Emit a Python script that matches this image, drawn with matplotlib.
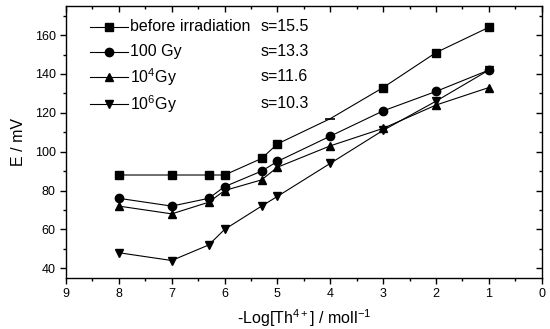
import numpy as np
import matplotlib
matplotlib.use("Agg")
import matplotlib.pyplot as plt
from matplotlib.ticker import MultipleLocator

plt.rcParams['font.family'] = ['Liberation Sans', 'DejaVu Sans']
plt.rcParams['mathtext.default'] = 'regular'

# -log[Th4+] concentrations
log_conc = [8, 7, 6.3, 6, 5.3, 5, 4, 3, 2, 1]

# electrode potential (mV) for each dose
e_before = [88, 88, 88, 88, 96.5, 104, 117, 133, 151, 164]
e_100gy = [76, 72, 76, 82, 90, 95, 108, 121, 131, 142]
e_1e4gy = [72, 68, 74, 80, 85.5, 92, 103, 112, 124, 133]
e_1e6gy = [48, 44, 52, 60, 72, 77, 94, 111, 126, 142]

labels = ["before irradiation", "100 Gy", "10$^4$Gy", "10$^6$Gy"]
slopes = ["s=15.5", "s=13.3", "s=11.6", "s=10.3"]

fig = plt.figure(figsize=(5.5, 3.29), dpi=100)
ax = fig.add_axes([0.12, 0.155, 0.865, 0.827])

series = [e_before, e_100gy, e_1e4gy, e_1e6gy]
markers = ['s', 'o', '^', 'v']
for vals, m in zip(series, markers):
    if m == 's':
        # the point at 4 shows only a dash in the original
        idx = [i for i in range(len(log_conc)) if log_conc[i] != 4]
        ax.plot(log_conc, vals, color='black', lw=0.8, marker=m,
                markersize=5.5, markevery=idx)
        j = log_conc.index(4)
        ax.plot([log_conc[j]], [vals[j]], marker='_', color='black',
                markersize=7, mew=1.2, ls='none')
    else:
        ax.plot(log_conc, vals, color='black', lw=0.8, marker=m,
                markersize=6)

# hand-placed legend rows (even spacing like the original)
row_y = [0.923, 0.831, 0.739, 0.640]
for k in range(4):
    y = row_y[k]
    ax.plot([0.050, 0.130], [y, y], color='black', lw=0.8,
            transform=ax.transAxes)
    ax.plot([0.090], [y], marker=markers[k], color='black', markersize=6,
            transform=ax.transAxes)
    ax.text(0.134, y, labels[k], transform=ax.transAxes, fontsize=11.5,
            va='center', ha='left')
    ax.text(0.408, y, slopes[k], transform=ax.transAxes, fontsize=11.5,
            va='center', ha='left')

ax.set_xlim(9, 0)
ax.set_ylim(35, 175)
ax.xaxis.set_major_locator(MultipleLocator(1))
ax.xaxis.set_minor_locator(MultipleLocator(0.5))
ax.yaxis.set_minor_locator(MultipleLocator(10))
ax.set_yticks(np.arange(40, 161, 20))

ax.tick_params(which='both', direction='out', top=True, right=True,
               labelsize=9, width=1)
ax.tick_params(which='major', length=4)
ax.tick_params(which='minor', length=2.5)
# top and right ticks point inward
for tick in ax.xaxis.get_major_ticks() + ax.xaxis.get_minor_ticks():
    tick.tick2line.set_marker(matplotlib.lines.TICKDOWN)
for tick in ax.yaxis.get_major_ticks() + ax.yaxis.get_minor_ticks():
    tick.tick2line.set_marker(matplotlib.lines.TICKLEFT)

for sp in ax.spines.values():
    sp.set_linewidth(1)

ax.set_xlabel("-Log[Th$^{4+}$] / moll$^{-1}$", fontsize=11.5, labelpad=5)
ax.set_ylabel("E / mV", fontsize=11.5, labelpad=6)

fig.savefig("out.png", dpi=100)
